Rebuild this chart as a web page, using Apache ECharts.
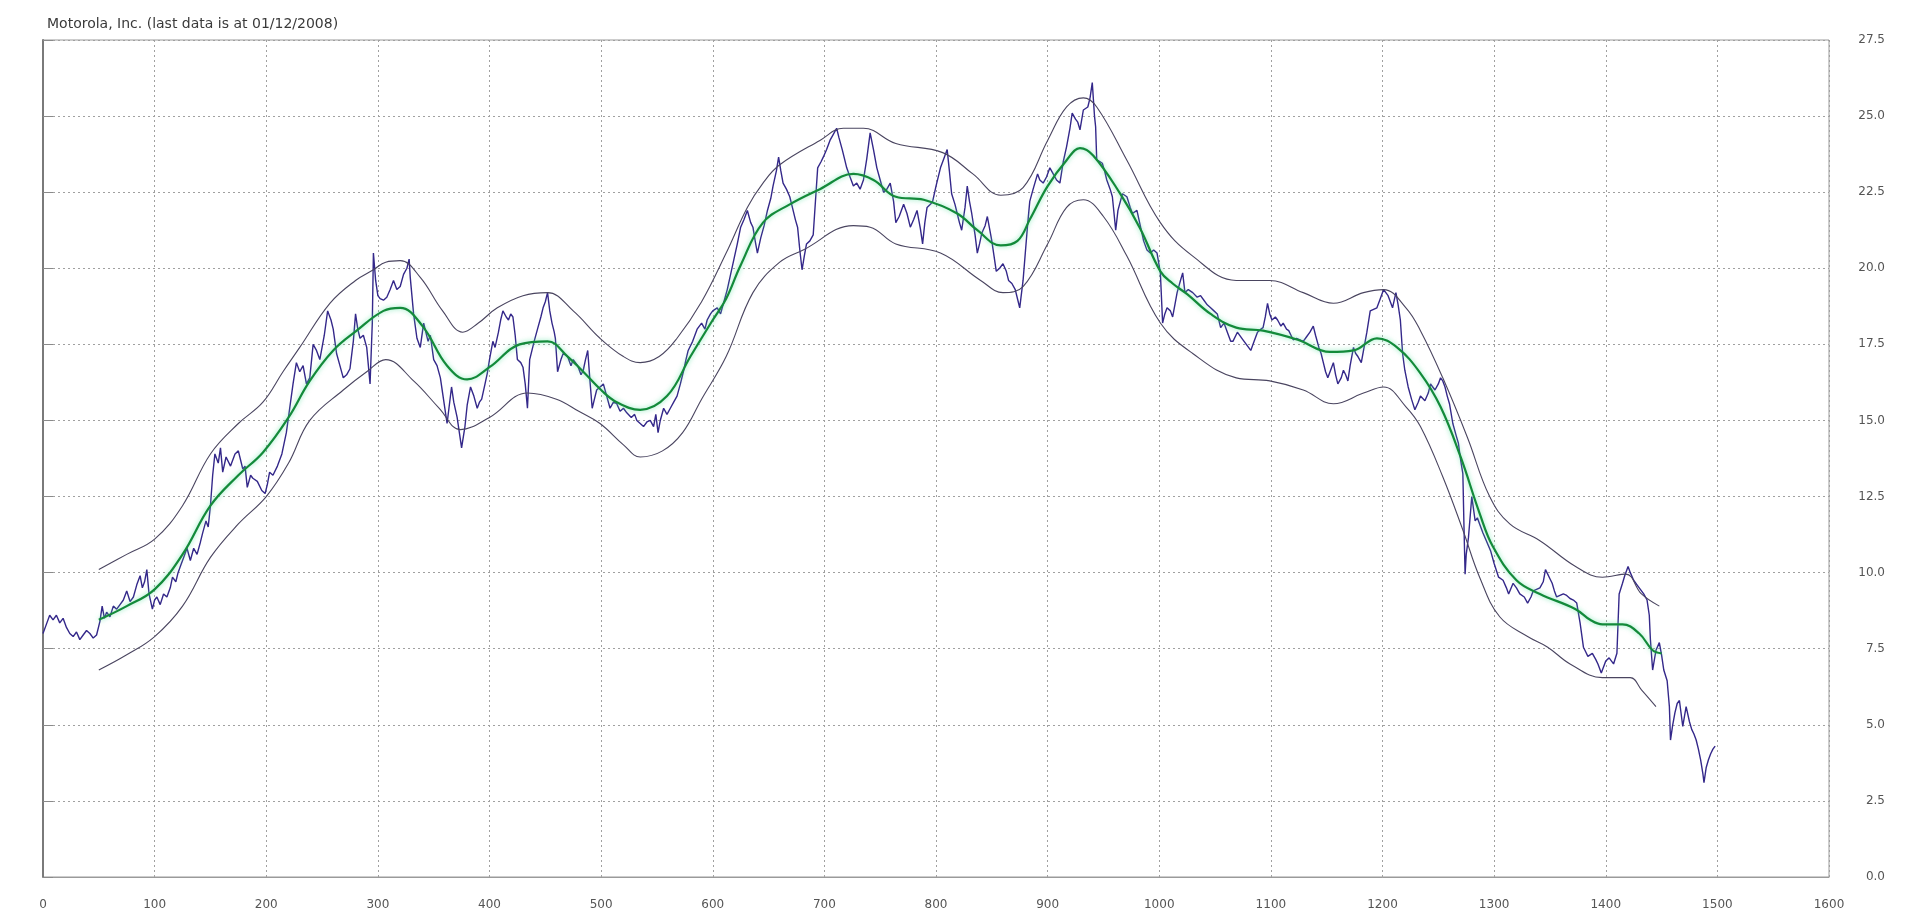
<!DOCTYPE html>
<html>
<head>
<meta charset="utf-8">
<title>Motorola, Inc.</title>
<script src="https://cdn.jsdelivr.net/npm/echarts@6/dist/echarts.min.js"></script>
<style>
  html, body { margin: 0; padding: 0; background: #ffffff; }
  #chart { width: 1911px; height: 922px; }
</style>
</head>
<body>
<div id="chart"></div>
<script>
// Title and axis ticks
const titleText = 'Motorola, Inc. (last data is at 01/12/2008)';
const xTicks = { min: 0, max: 1600, step: 100 };
const yTicks = { min: 0, max: 27.5, step: 2.5 };

// Daily closing price: [trading day, price]
const price = [
  [0,8.0],[3,8.3],[6,8.6],[9,8.45],[12,8.6],[15,8.35],[18,8.5],[21,8.2],[24,8.0],[27,7.9],[30,8.05],[33,7.8],[36,7.95],[39,8.1],[42,8.0],[45,7.85],[48,7.95],
  [51,8.4],[53,8.9],[55,8.5],[57,8.7],[60,8.55],[63,8.9],[66,8.8],[69,8.95],[72,9.1],[75,9.4],[78,9.05],[81,9.2],[84,9.6],[87,9.9],[89,9.5],[91,9.7],[93,10.1],[95,9.3],[98,8.8],
  [100,9.1],[102,9.2],[105,8.95],[108,9.3],[111,9.2],[114,9.5],[116,9.85],[119,9.7],[121,10.0],[123,10.2],[126,10.5],[129,10.8],[132,10.4],[135,10.8],[138,10.6],[141,11.0],[143,11.3],[146,11.7],[148,11.5],
  [150,12.2],[152,13.2],[154,13.9],[157,13.6],[159,14.1],[161,13.3],[164,13.8],[168,13.5],[172,13.9],[175,14.0],[177,13.7],[179,13.4],[181,13.5],[183,12.8],[186,13.2],[188,13.1],[192,13.0],[196,12.7],[199,12.6],
  [201,12.9],[203,13.3],[206,13.2],[210,13.5],[214,13.9],[218,14.6],[221,15.4],[224,16.2],[227,16.9],[230,16.6],[233,16.8],[236,16.2],[239,16.4],[242,17.5],[245,17.3],[248,17.0],
  [252,17.8],[255,18.6],[258,18.3],[260,18.0],[263,17.2],[266,16.8],[269,16.4],[272,16.5],[275,16.7],[278,17.6],[280,18.5],[282,18.0],[284,17.7],[287,17.8],[290,17.4],[293,16.2],[295,18.2],[296,20.5],[298,19.6],
  [300,19.1],[302,19.0],[305,18.95],[308,19.05],[311,19.3],[314,19.6],[317,19.3],[320,19.4],[323,19.8],[326,20.0],[328,20.3],[329,19.7],[332,18.5],[335,17.7],[338,17.4],[341,18.2],[345,17.6],[347,17.8],
  [350,17.0],[353,16.8],[356,16.4],[358,15.9],[360,15.4],[362,14.9],[364,15.5],[366,16.1],[368,15.6],[371,15.1],[373,14.6],[375,14.1],[378,14.8],[380,15.5],[383,16.1],[386,15.8],[389,15.4],[391,15.6],[393,15.7],[396,16.2],[398,16.55],
  [400,17.0],[403,17.6],[405,17.4],[408,17.9],[410,18.3],[412,18.6],[415,18.4],[417,18.3],[419,18.5],[421,18.4],[423,17.8],[425,17.0],[428,16.9],[430,16.75],[432,16.2],[434,15.4],[436,17.0],[440,17.6],[443,18.0],[446,18.4],[448,18.7],
  [450,18.9],[452,19.2],[454,18.6],[456,18.2],[458,17.9],[459,17.7],[461,16.6],[464,17.0],[466,17.2],[470,17.1],[473,16.8],[475,17.0],[479,16.8],[482,16.5],[484,16.65],[486,17.0],[488,17.3],[490,16.3],[492,15.4],[494,15.7],[496,16.0],[499,16.1],
  [502,16.2],[505,15.8],[508,15.4],[511,15.6],[514,15.55],[517,15.3],[520,15.4],[523,15.25],[527,15.1],[530,15.2],[532,15.0],[535,14.9],[538,14.8],[541,14.95],[544,15.0],[547,14.8],[549,15.2],
  [551,14.6],[553,15.0],[556,15.4],[559,15.2],[562,15.4],[565,15.6],[568,15.8],[571,16.2],[574,16.65],[576,17.0],[578,17.3],[582,17.6],[586,18.0],[590,18.2],[593,18.0],[595,18.3],[598,18.5],
  [600,18.6],[604,18.7],[607,18.5],[610,18.9],[613,19.3],[616,19.8],[619,20.3],[622,20.8],[625,21.35],[628,21.6],[631,21.9],[634,21.5],[636,21.35],[638,20.9],[640,20.5],[643,21.0],[646,21.4],[649,21.9],
  [652,22.3],[654,22.7],[657,23.2],[659,23.65],[661,23.2],[663,22.8],[666,22.6],[669,22.35],[672,21.9],[674,21.6],[676,21.35],[678,20.6],[680,19.95],[682,20.4],[684,20.8],[687,20.9],[690,21.1],[692,22.2],[694,23.3],[697,23.5],[699,23.65],
  [702,23.9],[705,24.2],[708,24.4],[711,24.6],[713,24.3],[716,23.9],[718,23.6],[720,23.3],[723,23.0],[726,22.7],[729,22.8],[732,22.6],[735,22.9],[738,23.6],[741,24.45],[744,23.9],[747,23.3],
  [750,22.9],[753,22.5],[756,22.6],[759,22.8],[762,22.2],[764,21.5],[767,21.7],[771,22.1],[774,21.8],[777,21.35],[780,21.6],[783,21.9],[786,21.3],[788,20.8],[790,21.5],[792,22.0],[795,22.1],[797,22.2],
  [800,22.7],[804,23.3],[807,23.6],[810,23.9],[812,23.2],[814,22.45],[817,22.1],[819,21.8],[821,21.5],[823,21.25],[826,22.0],[828,22.7],[830,22.2],[832,21.8],[835,21.1],[837,20.5],[839,20.8],[841,21.15],[844,21.4],[846,21.7],[848,21.3],
  [850,20.9],[852,20.4],[854,19.9],[857,20.0],[860,20.15],[863,19.9],[865,19.6],[868,19.5],[871,19.3],[873,19.0],[875,18.7],[878,19.6],[880,20.5],[882,21.4],[884,22.2],[887,22.6],[891,23.1],[893,22.9],[896,22.8],[899,23.0],
  [902,23.3],[905,23.1],[908,22.9],[911,22.8],[914,23.5],[917,24.0],[920,24.6],[922,25.1],[925,24.9],[927,24.8],[929,24.55],[932,25.2],[936,25.3],[938,25.6],[940,26.1],[942,25.0],[943,24.65],[944,23.55],[947,23.5],[949,23.45],
  [951,23.2],[953,22.9],[956,22.6],[958,22.35],[961,21.25],[963,21.9],[967,22.45],[969,22.4],[971,22.35],[974,22.0],[976,21.8],[980,21.9],[983,21.4],[986,20.9],[989,20.6],[992,20.5],[995,20.6],[998,20.5],
  [1001,19.85],[1003,18.2],[1005,18.5],[1007,18.7],[1010,18.6],[1012,18.4],[1014,18.8],[1016,19.2],[1019,19.6],[1021,19.85],[1023,19.2],[1026,19.3],[1030,19.2],[1034,19.05],[1037,19.1],[1040,18.95],[1043,18.8],[1046,18.7],[1049,18.6],
  [1052,18.5],[1055,18.05],[1058,18.2],[1061,17.9],[1064,17.6],[1066,17.6],[1070,17.9],[1075,17.65],[1078,17.5],[1082,17.3],[1085,17.6],[1088,17.9],[1091,18.0],[1093,18.05],[1095,18.4],[1097,18.85],[1099,18.5],
  [1101,18.3],[1104,18.4],[1106,18.3],[1109,18.1],[1111,18.2],[1114,18.0],[1116,17.95],[1118,17.8],[1120,17.65],[1123,17.7],[1126,17.65],[1129,17.6],[1132,17.75],[1135,17.9],[1138,18.1],[1140,17.8],[1143,17.4],[1145,17.2],[1147,16.9],[1149,16.6],
  [1151,16.4],[1154,16.7],[1156,16.9],[1158,16.5],[1160,16.2],[1163,16.4],[1165,16.65],[1167,16.5],[1169,16.3],[1171,16.8],[1174,17.4],[1176,17.2],[1178,17.1],[1181,16.9],[1183,17.3],[1186,17.9],[1189,18.6],[1192,18.65],[1195,18.7],[1198,19.0],
  [1201,19.3],[1203,19.2],[1205,19.1],[1207,18.9],[1209,18.7],[1212,19.2],[1214,18.8],[1216,18.3],[1218,17.2],[1220,16.65],[1223,16.1],[1226,15.7],[1229,15.35],[1232,15.6],[1234,15.8],[1238,15.65],[1241,15.9],[1243,16.2],[1245,16.1],[1247,16.0],
  [1250,16.2],[1252,16.4],[1254,16.3],[1256,16.1],[1258,15.8],[1260,15.55],[1263,14.9],[1266,14.5],[1268,14.25],[1270,13.7],[1272,13.25],[1273,11.5],[1274,9.95],[1275,10.6],[1277,11.15],[1280,12.5],[1283,11.7],[1285,11.8],[1287,11.6],[1290,11.3],[1293,11.05],[1297,10.7],
  [1300,10.3],[1304,9.85],[1308,9.75],[1311,9.5],[1313,9.3],[1317,9.65],[1320,9.5],[1323,9.3],[1327,9.2],[1330,9.0],[1333,9.2],[1335,9.4],[1338,9.45],[1341,9.5],[1344,9.7],[1346,10.1],[1348,9.95],
  [1350,9.8],[1352,9.65],[1354,9.4],[1356,9.2],[1359,9.25],[1362,9.3],[1365,9.25],[1368,9.15],[1371,9.1],[1374,9.0],[1377,8.35],[1380,7.55],[1382,7.4],[1384,7.25],[1386,7.3],[1388,7.35],[1391,7.15],[1393,7.0],[1396,6.7],[1398,6.9],
  [1400,7.1],[1403,7.2],[1405,7.1],[1407,7.0],[1410,7.35],[1412,9.3],[1415,9.65],[1417,9.9],[1420,10.2],[1422,10.0],[1425,9.75],[1428,9.6],[1431,9.45],[1434,9.3],[1437,9.1],[1439,8.6],[1440,7.8],[1442,6.8],[1445,7.45],[1448,7.7],
  [1450,7.3],[1452,6.8],[1455,6.45],[1457,5.6],[1458,4.5],[1460,5.0],[1462,5.4],[1464,5.7],[1466,5.8],[1469,4.95],[1472,5.6],[1475,5.1],[1477,4.85],[1479,4.7],[1481,4.5],[1483,4.2],[1485,3.85],[1487,3.4],[1488,3.1],[1490,3.6],[1492,3.85],[1494,4.05],[1496,4.2],[1498,4.3]
];

// Smoothed trend line: [trading day, value]
const trend = [
  [50,8.45],[75,8.9],[100,9.45],[125,10.6],[150,12.2],[175,13.2],[197,13.95],[220,15.1],[239,16.3],[260,17.3],[281,17.95],[305,18.6],[320,18.7],[340,18.1],[362,16.8],[380,16.35],[400,16.75],[427,17.5],[452,17.6],[470,17.1],[484,16.6],
  [500,16.0],[514,15.6],[535,15.35],[559,15.8],[580,17.1],[600,18.3],[612,19.0],[625,20.1],[645,21.5],[669,22.1],[696,22.6],[726,23.1],[744,22.9],[764,22.35],[789,22.25],[819,21.8],[837,21.25],[858,20.75],[873,20.9],[884,21.6],[900,22.7],
  [917,23.55],[929,23.95],[941,23.7],[965,22.45],[983,21.3],[1001,19.9],[1012,19.5],[1025,19.15],[1046,18.5],[1069,18.05],[1093,17.95],[1124,17.65],[1153,17.25],[1174,17.3],[1195,17.7],[1213,17.4],[1234,16.55],[1252,15.45],
  [1270,13.8],[1287,11.95],[1299,10.85],[1320,9.75],[1341,9.3],[1373,8.8],[1386,8.45],[1397,8.3],[1415,8.3],[1430,8.0],[1442,7.45],[1450,7.35]
];

// Upper envelope: [trading day, value]
const upperBand = [
  [50,10.1],[75,10.6],[100,11.1],[125,12.2],[150,13.9],[175,14.9],[197,15.6],[215,16.6],[230,17.4],[257,18.85],[280,19.6],[296,19.95],[307,20.2],[320,20.25],[338,19.7],[358,18.6],[376,17.9],[390,18.2],[407,18.7],[430,19.1],[452,19.2],
  [475,18.6],[499,17.7],[520,17.1],[535,16.9],[552,17.1],[568,17.7],[590,18.9],[612,20.5],[631,22.0],[645,22.8],[660,23.4],[696,24.2],[717,24.6],[735,24.6],[764,24.1],[806,23.8],[833,23.1],[858,22.4],[878,22.65],[900,24.2],
  [917,25.3],[932,25.6],[944,25.3],[971,23.55],[1001,21.5],[1030,20.4],[1069,19.6],[1099,19.6],[1129,19.2],[1156,18.85],[1183,19.2],[1201,19.3],[1221,18.7],[1234,17.95],[1254,16.4],[1276,14.45],[1296,12.5],[1314,11.6],
  [1341,11.05],[1373,10.2],[1397,9.85],[1418,9.95],[1432,9.3],[1448,8.9]
];

// Lower envelope: [trading day, value]
const lowerBand = [
  [50,6.8],[75,7.3],[100,7.9],[125,8.9],[150,10.5],[175,11.6],[200,12.5],[220,13.6],[239,15.0],[269,16.0],[290,16.6],[307,17.0],[332,16.3],[355,15.4],[374,14.7],[400,15.1],[434,15.9],[460,15.7],[480,15.3],[499,14.9],
  [520,14.2],[535,13.8],[555,14.0],[573,14.6],[590,15.7],[612,17.1],[636,19.2],[660,20.2],[681,20.6],[726,21.4],[741,21.35],[764,20.8],[804,20.5],[840,19.6],[860,19.2],[878,19.4],[900,20.8],[917,22.0],[932,22.25],[950,21.7],
  [971,20.4],[1001,18.2],[1030,17.2],[1069,16.4],[1099,16.3],[1129,16.0],[1156,15.55],[1183,15.9],[1201,16.1],[1221,15.45],[1234,14.8],[1254,13.15],[1272,11.4],[1287,9.85],[1305,8.55],[1330,7.9],[1348,7.55],[1368,7.0],
  [1397,6.55],[1422,6.55],[1432,6.15],[1445,5.6]
];

const chart = echarts.init(document.getElementById('chart'), null, { renderer: 'canvas' });

const gridLine = { show: true, lineStyle: { color: '#a0a0a0', width: 1, type: [2, 3] } };
const labelFont = { fontFamily: 'DejaVu Sans', fontSize: 12, color: '#555' };

chart.setOption({
  animation: false,
  backgroundColor: '#ffffff',
  title: {
    text: titleText,
    left: 42,
    top: 12,
    textStyle: { fontFamily: 'DejaVu Sans', fontSize: 14, fontWeight: 'normal', color: '#3a3a3a' }
  },
  grid: {
    left: 43, right: 82, top: 40, bottom: 45,
    show: true, borderColor: '#9a9a9a', borderWidth: 1, backgroundColor: '#ffffff'
  },
  xAxis: {
    type: 'value',
    min: xTicks.min, max: xTicks.max, interval: xTicks.step,
    axisLine: { show: true, lineStyle: { color: '#9a9a9a', width: 1 } },
    axisTick: { show: false },
    axisLabel: Object.assign({ margin: 22, formatter: v => String(v) }, labelFont),
    splitLine: gridLine
  },
  yAxis: {
    type: 'value',
    position: 'right',
    min: yTicks.min, max: yTicks.max, interval: yTicks.step,
    axisLine: { show: true, lineStyle: { color: '#7a7a7a', width: 2 } },
    axisTick: { show: true, length: 10, lineStyle: { color: '#8a8a8a' } },
    axisLabel: Object.assign({
      margin: 56, align: 'right',
      formatter: v => v.toFixed(1)
    }, labelFont),
    splitLine: gridLine
  },
  series: [
    {
      name: 'Price', type: 'line', data: price, symbol: 'none',
      lineStyle: { color: '#34288a', width: 1.4 }, z: 2
    },
    {
      name: 'Upper', type: 'line', data: upperBand, symbol: 'none', smooth: 0.4,
      lineStyle: { color: '#4a4560', width: 1.1 }, z: 3
    },
    {
      name: 'Lower', type: 'line', data: lowerBand, symbol: 'none', smooth: 0.4,
      lineStyle: { color: '#4a4560', width: 1.1 }, z: 3
    },
    {
      name: 'Trend', type: 'line', data: trend, symbol: 'none', smooth: 0.4,
      lineStyle: { color: '#138a3a', width: 2.2, shadowColor: 'rgba(90,225,160,0.75)', shadowBlur: 5 }, z: 4
    }
  ]
});
</script>
</body>
</html>
